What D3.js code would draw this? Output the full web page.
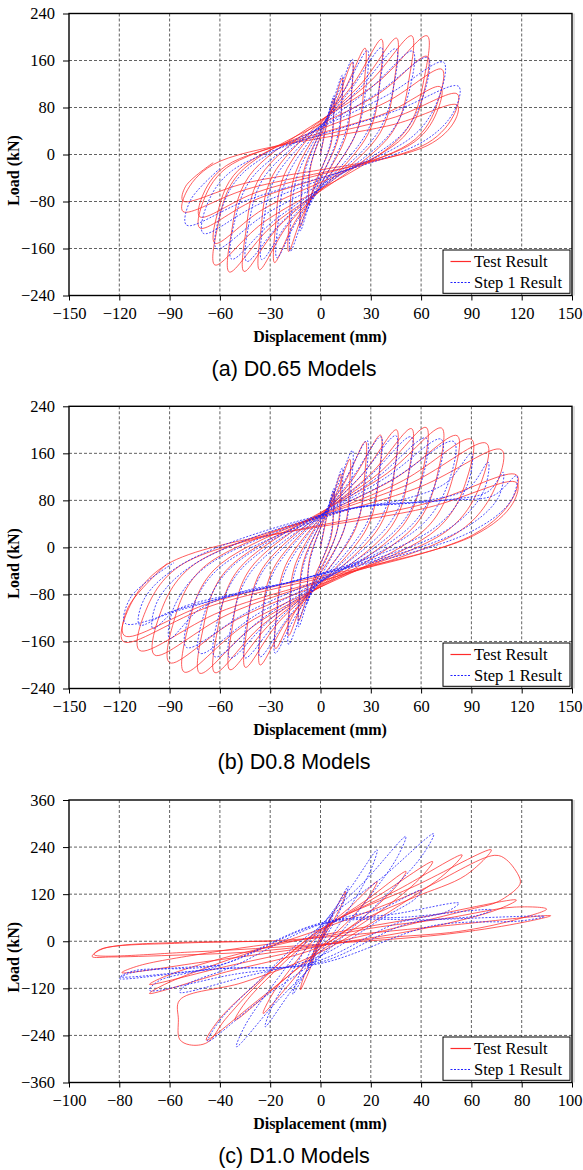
<!DOCTYPE html>
<html>
<head>
<meta charset="utf-8">
<script src="https://cdn.jsdelivr.net/npm/d3@7/dist/d3.min.js"></script>
<style>
  body { margin: 0; background: #fff; }
</style>
</head>
<body>
<svg id="chart" width="583" height="1170"></svg>
<script>
// ---------- Hysteresis data: each loop is a list of [displacement (mm), load (kN)] ----------

// D0.65 — test
const testD065 = [
  [[4.4,59],[8,95],[7.8,65],[6.2,17],[-3.9,-53],[-7,-85],[-6.9,-58],[-5.5,-15]],
  [[7.2,81],[13,130],[12.7,88],[10.1,23],[-6.6,-76],[-12,-122],[-11.8,-83],[-9.4,-22]],
  [[10.5,97],[19,157],[18.6,107],[14.8,28],[-10.5,-102],[-19,-165],[-18.6,-112],[-14.8,-30]],
  [[14.6,112],[26.6,181],[26.1,123],[20.7,33],[-15.1,-114],[-27.4,-184],[-26.9,-125],[-21.4,-33]],
  [[20,122],[36.4,196],[35.7,133],[28.4,35],[-20,-122],[-36.4,-196],[-35.7,-133],[-28.4,-35]],
  [[25,123],[45.4,198],[44.5,135],[35.4,36],[-25.1,-123],[-45.6,-199],[-44.7,-135],[-35.6,-36]],
  [[29.9,125],[54.4,202],[53.3,137],[42.4,36],[-29.9,-124],[-54.4,-200],[-53.3,-136],[-42.4,-36]],
  [[35,125],[63.6,202],[62.3,137],[49.6,36],[-34.7,-117],[-63,-188],[-61.7,-128],[-49.1,-34]],
  [[35,104],[63.6,167],[62.3,114],[49.6,30],[-34.7,-94],[-63,-151],[-61.7,-103],[-49.1,-27]],
  [[39.8,90],[72.4,145],[71,99],[56.5,26],[-39.6,-78],[-72,-125],[-70.6,-85],[-56.2,-23]],
  [[39.4,71],[71.6,115],[70.2,78],[55.8,21],[-39.6,-66],[-72,-106],[-70.6,-72],[-56.2,-19]],
  [[44.9,64],[81.6,103],[80,70],[63.6,19],[-45.1,-60],[-82,-97],[-80.4,-66],[-64,-17]],
  [[44.9,52],[81.6,84],[80,57],[63.6,15],[-45.1,-49],[-82,-79],[-80.4,-54],[-64,-14]]
];

// D0.65 — step 1 analysis
const stepD065 = [
  [[4.4,65],[8,100],[7.8,65],[6,20],[-4.4,-62],[-8,-95],[-7.8,-62],[-6,-19]],
  [[7.2,88],[13,135],[12.6,88],[9.8,27],[-6.6,-85],[-12,-130],[-11.6,-85],[-9,-26]],
  [[10.5,105],[19,162],[18.4,105],[14.3,32],[-9.9,-107],[-18,-165],[-17.5,-107],[-13.5,-33]],
  [[15.4,115],[28,177],[27.2,115],[21,35],[-14.3,-114],[-26,-176],[-25.2,-114],[-19.5,-35]],
  [[20,118],[36.4,182],[35.3,118],[27.3,36],[-19.3,-116],[-35,-179],[-34,-116],[-26.3,-36]],
  [[24.8,117],[45,180],[43.7,117],[33.8,36],[-24.2,-118],[-44,-182],[-42.7,-118],[-33,-36]],
  [[30.3,114],[55,176],[53.4,114],[41.3,35],[-29.2,-116],[-53,-178],[-51.4,-116],[-39.8,-36]],
  [[35.2,107],[64,165],[62.1,107],[48,33],[-34.1,-104],[-62,-160],[-60.1,-104],[-46.5,-32]],
  [[40.4,102],[73.4,157],[71.2,102],[55,31],[-38.5,-87],[-70,-134],[-67.9,-87],[-52.5,-27]],
  [[45.3,75],[82.4,116],[79.9,75],[61.8,23],[-44,-78],[-80,-120],[-77.6,-78],[-60,-24]]
];

// D0.8 — test
const testD08 = [
  [[4.4,59],[8,95],[7.8,65],[6.2,17],[-4.4,-56],[-8,-90],[-7.8,-61],[-6.2,-16]],
  [[6.6,78],[12,125],[11.8,85],[9.4,23],[-7.2,-78],[-13,-125],[-12.7,-85],[-10.1,-23]],
  [[9.6,93],[17.5,150],[17.2,102],[13.7,27],[-10.5,-93],[-19,-150],[-18.6,-102],[-14.8,-27]],
  [[14.7,112],[26.8,180],[26.3,122],[20.9,32],[-14.7,-107],[-26.8,-172],[-26.3,-117],[-20.9,-31]],
  [[19.7,118],[35.8,191],[35.1,130],[27.9,34],[-19.8,-124],[-36,-200],[-35.3,-136],[-28.1,-36]],
  [[24.9,124],[45.3,200],[44.4,136],[35.3,36],[-24.6,-126],[-44.8,-204],[-43.9,-139],[-34.9,-37]],
  [[29.9,125],[54.3,202],[53.2,137],[42.4,36],[-29.7,-129],[-54,-208],[-52.9,-141],[-42.1,-37]],
  [[34.7,126],[63,204],[61.7,139],[49.1,37],[-34.7,-132],[-63,-213],[-61.7,-145],[-49.1,-38]],
  [[39.7,126],[72.2,203],[70.8,138],[56.3,37],[-39.6,-133],[-72,-214],[-70.6,-146],[-56.2,-39]],
  [[44.8,118],[81.5,190],[79.9,129],[63.6,34],[-44.7,-131],[-81.3,-212],[-79.7,-144],[-63.4,-38]],
  [[49.5,114],[90,184],[88.2,125],[70.2,33],[-49.5,-122],[-90,-196],[-88.2,-133],[-70.2,-35]],
  [[54.5,110],[99,177],[97,120],[77.2,32],[-54.5,-113],[-99,-183],[-97,-124],[-77.2,-33]],
  [[59.4,103],[108,166],[105.8,113],[84.2,30],[-59.4,-109],[-108,-175],[-105.8,-119],[-84.2,-32]],
  [[64.4,76],[117,123],[114.7,84],[91.3,22],[-64.7,-99],[-117.6,-160],[-115.2,-109],[-91.7,-29]],
  [[64.4,68],[117,110],[114.7,75],[91.3,20],[-64.4,-93],[-117,-150],[-114.7,-102],[-91.3,-27]]
];

// D0.8 — step 1 analysis
const stepD08 = [
  [[4.4,65],[8,100],[7.8,65],[6,20],[-4.4,-62],[-8,-95],[-7.8,-62],[-6,-19]],
  [[7.2,88],[13,135],[12.6,88],[9.8,27],[-7.2,-88],[-13,-135],[-12.6,-88],[-9.8,-27]],
  [[10.5,107],[19,165],[18.4,107],[14.3,33],[-10.5,-107],[-19,-165],[-18.4,-107],[-14.3,-33]],
  [[15.3,118],[27.8,182],[27,118],[20.9,36],[-14.9,-117],[-27,-180],[-26.2,-117],[-20.3,-36]],
  [[19.8,122],[36,188],[34.9,122],[27,38],[-19.8,-121],[-36,-186],[-34.9,-121],[-27,-37]],
  [[24.8,124],[45,190],[43.7,124],[33.8,38],[-24.8,-122],[-45,-188],[-43.7,-122],[-33.8,-38]],
  [[29.7,122],[54,188],[52.4,122],[40.5,38],[-29.7,-122],[-54,-188],[-52.4,-122],[-40.5,-38]],
  [[34.7,121],[63,186],[61.1,121],[47.3,37],[-34.7,-121],[-63,-186],[-61.1,-121],[-47.3,-37]],
  [[39.6,120],[72,184],[69.8,120],[54,37],[-39.6,-117],[-72,-180],[-69.8,-117],[-54,-36]],
  [[43.7,117],[79.5,180],[77.1,117],[59.6,36],[-44,-111],[-80,-170],[-77.6,-111],[-60,-34]],
  [[14,62],[50,82],[75,110],[90,160],[87.3,104],[67.5,32],[-14,-56],[-45,-74],[-72,-105],[-90,-155],[-87.3,-101],[-67.5,-31]],
  [[14,63],[60,78],[88,100],[100,145],[97,94],[75,29],[-14,-56],[-50,-78],[-85,-105],[-100,-138],[-97,-90],[-75,-28]],
  [[14,63],[73,80],[100,95],[109,128],[105.7,83],[81.8,26],[-14,-56],[-60,-87],[-90,-110],[-108,-132],[-104.8,-86],[-81,-26]],
  [[14,64],[73,80],[103,88],[117,122],[113.5,79],[87.8,24],[-14,-56],[-60,-87],[-82,-105],[-116.5,-129],[-113,-84],[-87.4,-26]]
];

// D1.0 — test
const testD10 = [
  [[1,9],[2.2,36],[4,60],[3.5,47],[2.2,26],[-1,-7],[-2.2,-33],[-4,-55],[-3.5,-43],[-2.2,-24]],
  [[1,19],[5.5,76],[10,127],[8.8,99],[5.5,57],[-1,-15],[-4.4,-74],[-8,-124],[-7,-97],[-4.4,-56]],
  [[1,23],[12.4,91],[22.5,152],[19.8,119],[12.4,60],[-1,-22],[-12.5,-110],[-22.8,-184],[-20,-144],[-12.5,-75]],
  [[1,27],[18.7,107],[34,178],[30,139],[18.7,70],[-1,-24],[-18.7,-121],[-34,-201],[-30,-157],[-18.7,-80]],
  [[1,30],[24.5,122],[44.6,203],[39.2,158],[24.5,80],[-1,-30],[-25,-151],[-45.4,-252],[-40,-197],[-25,-105]],
  [[1,33],[31,132],[56.3,220],[49.5,172],[31,90],[-1,-31],[-30.8,-105],[-56,-150],[-56.5,-200],[-56,-250],[-52,-264],[-45,-258],[-38,-200],[-25,-110]],
  [[1,35],[37.3,140],[67.9,233],[57.7,168],[37.3,112],[17,55],[-1,-16],[-37.4,-78],[-68,-133],[-62,-110],[-40,-55]],
  [[1,33],[38,125],[69.3,219],[73.9,208],[79.2,161],[79.2,144],[70.6,101],[61.2,84],[40,50],[-1,-13],[-37.4,-64],[-68,-110],[-62,-90],[-40,-45]],
  [[1,16],[42.8,64],[77.9,105],[70,80],[43,35],[-1,-12],[-43.5,-50],[-79,-80],[-72,-62],[-43,-28]],
  [[1,12],[24,37],[49.4,58],[77,87],[89.9,82],[77,54],[55,25],[24,8],[-1,-10],[-30,-28],[-60,-36],[-83,-40],[-90.8,-39],[-88,-22],[-80,-11],[-56,-3],[-20,1]],
  [[1,10],[50.3,40],[91.5,65],[78,45],[50,18],[-1,-8],[-50,-27],[-90,-34],[-86,-18],[-56,-5],[-20,0]]
];

// D1.0 — step 1 analysis
const stepD10 = [
  [[1,13],[2.8,42],[5,70],[4.5,56],[3,32],[-1,-12],[-2.8,-39],[-5,-65],[-4.5,-52],[-3,-29]],
  [[1,25],[6,84],[11,140],[9.9,112],[6.6,63],[-1,-24],[-6,-81],[-11,-135],[-9.9,-108],[-6.6,-61]],
  [[1,40],[12.4,140],[22.5,233],[20.3,186],[13.5,105],[-1,-38],[-12.1,-131],[-22,-218],[-19.8,-174],[-13.2,-98]],
  [[1,45],[18.6,160],[33.9,267],[30.5,214],[20.3,120],[-1,-46],[-18.4,-161],[-33.4,-269],[-30,-215],[-20,-121]],
  [[1,46],[24.8,164],[45,274],[40.5,219],[27,123],[-1,-44],[-24.6,-153],[-44.8,-255],[-40.3,-204],[-26.9,-115]],
  [[1,40],[25,85],[40,130],[38,110],[25,60],[-1,-40],[-30,-90],[-56,-130],[-53,-110],[-35,-65]],
  [[1,45],[30,70],[55,97],[50,75],[30,45],[-1,-50],[-35,-85],[-68,-125],[-64,-100],[-40,-62]],
  [[1,48],[35,62],[68,80],[62,65],[35,45],[-1,-55],[-40,-70],[-79.4,-90],[-74,-75],[-40,-60]],
  [[1,45],[45,55],[89,63],[80,52],[45,40],[-1,-58],[-40,-70],[-80,-95],[-75,-80],[-40,-62]]
];

// Axis ticks
const dispTicks150 = [-150,-120,-90,-60,-30,0,30,60,90,120,150];
const dispTicks100 = [-100,-80,-60,-40,-20,0,20,40,60,80,100];
const loadTicks240 = [-240,-160,-80,0,80,160,240];
const loadTicks360 = [-360,-240,-120,0,120,240,360];

const captions = ["(a) D0.65 Models", "(b) D0.8 Models", "(c) D1.0 Models"];
const legendLabels = ["Test Result", "Step 1 Result"];

// ---------- Layout ----------
const svg = d3.select("#chart");
const plotLeft = 69, plotRight = 572;
const serif = '"Liberation Serif", "Times New Roman", serif';
const sans = '"Liberation Sans", Arial, sans-serif';

const panels = [
  { top: 13.5,  bottom: 295.5,  xt: dispTicks150, yt: loadTicks240, test: testD065, step: stepD065, cap: captions[0] },
  { top: 406.3, bottom: 688.5,  xt: dispTicks150, yt: loadTicks240, test: testD08,  step: stepD08,  cap: captions[1] },
  { top: 800,   bottom: 1082.5, xt: dispTicks100, yt: loadTicks360, test: testD10,  step: stepD10,  cap: captions[2] }
];

const redCol = "#ff2b2b", blueCol = "#2222ff";

panels.forEach((p, i) => {
  const x = d3.scaleLinear().domain(d3.extent(p.xt)).range([plotLeft, plotRight]);
  const y = d3.scaleLinear().domain(d3.extent(p.yt)).range([p.bottom, p.top]);
  const g = svg.append("g");

  // dashed grid
  g.selectAll(".vg").data(p.xt.slice(1, -1)).join("line")
    .attr("x1", d => x(d)).attr("x2", d => x(d))
    .attr("y1", p.top).attr("y2", p.bottom)
    .attr("stroke", "#3a3a3a").attr("stroke-width", 0.8).attr("stroke-dasharray", "3,2");
  g.selectAll(".hg").data(p.yt.slice(1, -1)).join("line")
    .attr("x1", plotLeft).attr("x2", plotRight)
    .attr("y1", d => y(d)).attr("y2", d => y(d))
    .attr("stroke", "#3a3a3a").attr("stroke-width", 0.8).attr("stroke-dasharray", "3,2");

  // hysteresis curves
  const clipId = "clip" + i;
  svg.append("clipPath").attr("id", clipId).append("rect")
    .attr("x", plotLeft).attr("y", p.top).attr("width", plotRight - plotLeft).attr("height", p.bottom - p.top);
  const line = d3.line().x(d => x(d[0])).y(d => y(d[1])).curve(d3.curveCatmullRom.alpha(0.5));
  const gc = g.append("g").attr("clip-path", `url(#${clipId})`);
  gc.append("path").attr("d", line([[0,0]].concat(p.test.flat())))
    .attr("fill", "none").attr("stroke", redCol).attr("stroke-width", 0.9).attr("stroke-opacity", 0.85);
  gc.append("path").attr("d", line([[0,0]].concat(p.step.flat())))
    .attr("fill", "none").attr("stroke", blueCol).attr("stroke-width", 1).attr("stroke-opacity", 0.8)
    .attr("stroke-dasharray", "2,1.5");

  // frame
  g.append("line").attr("x1", plotRight + 2).attr("x2", plotRight + 2).attr("y1", p.top).attr("y2", p.bottom)
    .attr("stroke", "#c8c8c8").attr("stroke-width", 1.2);
  g.append("rect").attr("x", plotLeft).attr("y", p.top)
    .attr("width", plotRight - plotLeft).attr("height", p.bottom - p.top)
    .attr("fill", "none").attr("stroke", "#000").attr("stroke-width", 1.4);

  // axes
  const ya = g.append("g").attr("transform", `translate(${plotLeft},0)`)
    .call(d3.axisLeft(y).tickValues(p.yt).tickSize(6).tickPadding(8));
  const xa = g.append("g").attr("transform", `translate(0,${p.bottom})`)
    .call(d3.axisBottom(x).tickValues(p.xt).tickSize(5).tickPadding(7));
  [ya, xa].forEach(a => {
    a.select(".domain").remove();
    a.attr("font-family", null).attr("font-size", null);
    a.selectAll("text").attr("font-family", serif).attr("font-size", 16.5).attr("fill", "#000");
    a.selectAll("line").attr("stroke", "#000");
  });
  // keep the outermost displacement label inside the page
  xa.selectAll(".tick").filter((d, k, n) => k === n.length - 1).select("text")
    .attr("text-anchor", "end").attr("x", 10);

  // axis titles
  g.append("text").attr("x", 320).attr("y", p.bottom + 46)
    .attr("font-family", serif).attr("font-weight", "bold").attr("font-size", 16)
    .attr("text-anchor", "middle").text("Displacement (mm)");
  g.append("text")
    .attr("transform", `translate(19,${(p.top + p.bottom) / 2 + 16}) rotate(-90)`)
    .attr("font-family", serif).attr("font-weight", "bold").attr("font-size", 16)
    .attr("text-anchor", "middle").text("Load (kN)");

  // legend
  const lg = g.append("g").attr("transform", `translate(443,${p.bottom - 45.5})`);
  lg.append("rect").attr("width", 127).attr("height", 43.3).attr("fill", "#fff")
    .attr("stroke", "#000").attr("stroke-width", 1);
  [redCol, blueCol].forEach((c, k) => {
    const yy = 11.5 + k * 21;
    lg.append("line").attr("x1", 7.5).attr("x2", 28).attr("y1", yy).attr("y2", yy)
      .attr("stroke", c).attr("stroke-width", 1.2).attr("stroke-dasharray", k ? "2,1.5" : null);
    lg.append("text").attr("x", 31).attr("y", yy).attr("dy", "0.33em")
      .attr("font-family", serif).attr("font-size", 16.5).text(legendLabels[k]);
  });

  // caption
  g.append("text").attr("x", 294).attr("y", p.bottom + 80)
    .attr("font-family", sans).attr("font-size", 21.5)
    .attr("text-anchor", "middle").text(p.cap);
});
</script>
</body>
</html>
